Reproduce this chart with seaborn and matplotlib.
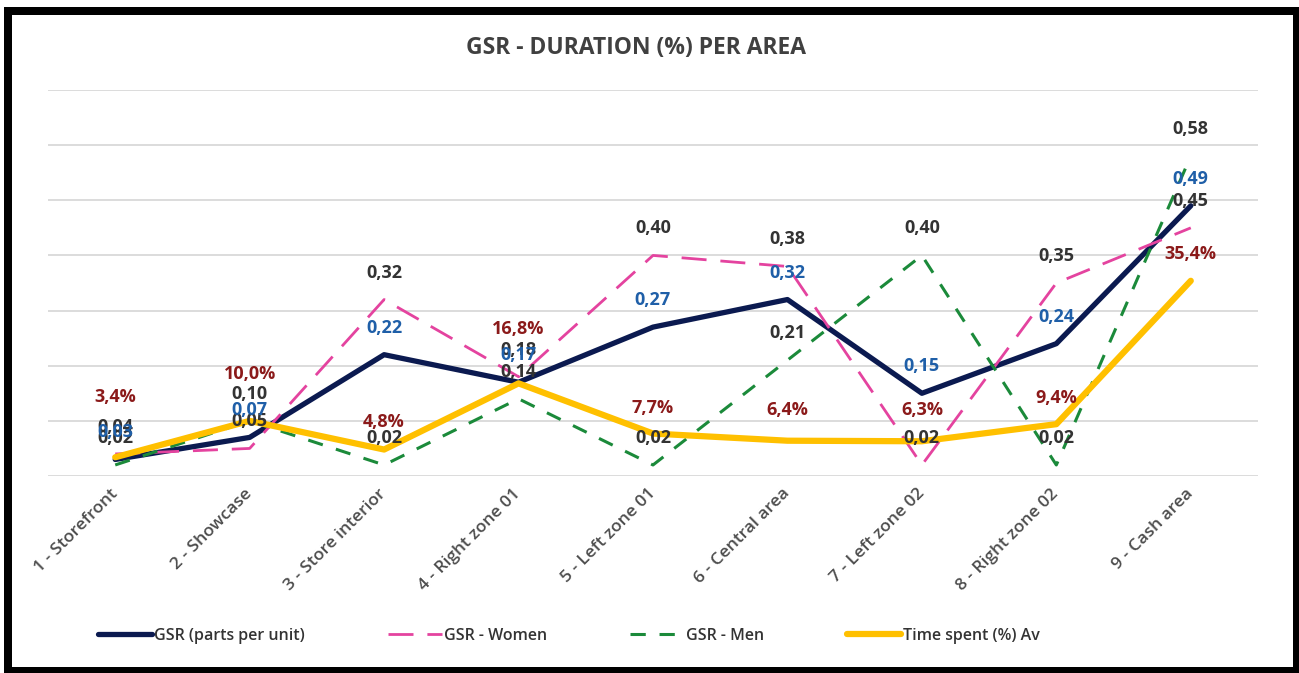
import matplotlib
matplotlib.use("Agg")
import matplotlib.pyplot as plt
import matplotlib.patches as mpatches
import pandas as pd
import seaborn as sns

# dados
areas = ['1 - Storefront', '2 - Showcase', '3 - Store interior', '4 - Right zone 01',
         '5 - Left zone 01', '6 - Central area', '7 - Left zone 02', '8 - Right zone 02',
         '9 - Cash area']
gsr_total = [0.03, 0.07, 0.22, 0.17, 0.27, 0.32, 0.15, 0.24, 0.49]
gsr_women = [0.04, 0.05, 0.32, 0.18, 0.40, 0.38, 0.02, 0.35, 0.45]
gsr_men = [0.02, 0.10, 0.02, 0.14, 0.02, 0.21, 0.40, 0.02, 0.58]
time_spent = [3.4, 10.0, 4.8, 16.8, 7.7, 6.4, 6.3, 9.4, 35.4]  # em %

# deslocamento (px) dos rotulos de tempo, como no original
time_label_off = [60, 47, 28, 54, 26, 31, 31, 26, 27]

df = pd.DataFrame({
    'area': areas,
    'x': range(len(areas)),
    'total': gsr_total,
    'women': gsr_women,
    'men': gsr_men,
    'time': [t / 100 for t in time_spent],
})

sns.set_style('white')
plt.rcParams['font.family'] = ['Open Sans', 'DejaVu Sans']

DPI = 100
fig = plt.figure(figsize=(12.99, 6.73), dpi=DPI)
ax = fig.add_axes([48 / 1299, 1 - 476 / 673, 1210 / 1299, 386 / 673])

navy = '#0b1a50'
pink = '#e4439f'
green = '#1b8a3a'
yellow = '#ffc000'

sns.lineplot(data=df, x='x', y='total', ax=ax, color=navy, lw=3.8,
             label='GSR (parts per unit)', zorder=3)
sns.lineplot(data=df, x='x', y='women', ax=ax, color=pink, lw=2.0,
             dashes=(9, 5), label='GSR - Women', zorder=4)
sns.lineplot(data=df, x='x', y='men', ax=ax, color=green, lw=2.2,
             dashes=(5, 4.5), label='GSR - Men', zorder=5)
sns.lineplot(data=df, x='x', y='time', ax=ax, color=yellow, lw=4.5,
             label='Time spent (%) Av', zorder=6)
for ln in ax.get_lines():
    ln.set_solid_capstyle('round')

ax.set_xlim(-0.5, len(areas) - 0.5)
ax.set_ylim(0, 0.7)
ax.set_yticks([i / 10 for i in range(8)])
ax.set_yticklabels([])
ax.tick_params(axis='y', length=0)
ax.grid(axis='y', color='#d9d9d9', lw=1.3)
ax.grid(axis='x', visible=False)
for s in ax.spines.values():
    s.set_visible(False)
ax.set_xlabel('')
ax.set_ylabel('')

ax.set_xticks(df['x'])
ax.set_xticklabels(areas, rotation=45, ha='right', va='center',
                   rotation_mode='anchor', fontsize=12.5, color='#4d4d4d',
                   fontweight='semibold')
ax.tick_params(axis='x', length=0, pad=11)

px = 72 / DPI  # px -> pontos


def fmt(v):
    return f'{v:.2f}'.replace('.', ',')


lab_kw = dict(textcoords='offset points', ha='center', va='center',
              fontsize=13, fontweight='bold', zorder=10)
for i in range(len(areas)):
    ax.annotate(fmt(gsr_women[i]), (i, gsr_women[i]), xytext=(0, 27 * px),
                color='#333333', **lab_kw)
    ax.annotate(fmt(gsr_men[i]), (i, gsr_men[i]), xytext=(0, 27 * px),
                color='#333333', **lab_kw)
    ax.annotate(fmt(gsr_total[i]), (i, gsr_total[i]), xytext=(0, 27 * px),
                color='#1f5fa8', **lab_kw)
    ax.annotate(f'{time_spent[i]:.1f}%'.replace('.', ','), (i, time_spent[i] / 100),
                xytext=(0, time_label_off[i] * px), color='#8b1a1a', **lab_kw)

fig.text(636 / 1299, 1 - 48 / 673, 'GSR - DURATION (%) PER AREA', ha='center',
         va='center', fontsize=16.5, fontweight='bold', color='#404040')

handles, labels = ax.get_legend_handles_labels()
ax.legend(handles, labels, loc='center', ncol=4,
          bbox_to_anchor=(569 / 1299, 1 - 636 / 673), bbox_transform=fig.transFigure,
          frameon=False, handlelength=3.4, handletextpad=0.1,
          columnspacing=5.2, prop={'weight': 'semibold', 'size': 11.5})
for t in ax.get_legend().get_texts():
    t.set_color('#333333')

# moldura preta em volta
fig.patches.append(mpatches.Rectangle((8 / 1299, 2 / 673), 1289 / 1299, 660 / 673,
                                      transform=fig.transFigure, fill=False,
                                      ec='black', lw=8 * px, zorder=20))

fig.savefig('out.png', dpi=DPI)
